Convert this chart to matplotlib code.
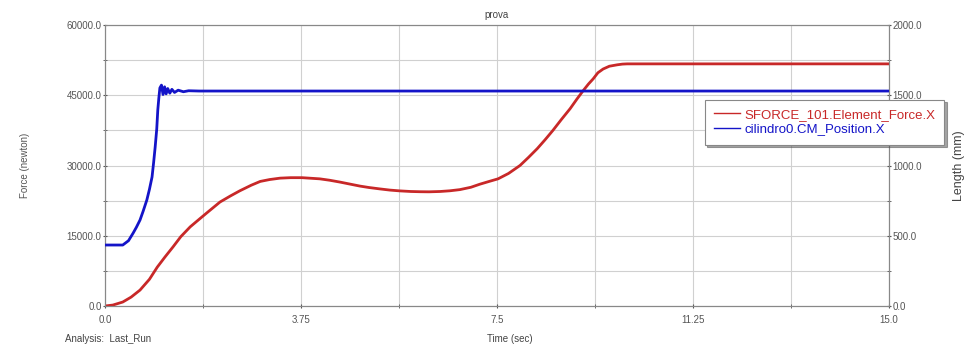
import matplotlib
matplotlib.use('Agg')
import matplotlib.pyplot as plt
from matplotlib.ticker import MultipleLocator

plt.rcParams['font.family'] = ['Liberation Sans', 'DejaVu Sans']

# Force (left axis)
force_t = [0.0, 0.15, 0.34, 0.5, 0.67, 0.85, 1.0, 1.15, 1.3, 1.45, 1.63, 1.8,
           1.95, 2.2, 2.4, 2.58, 2.8, 2.97, 3.15, 3.35, 3.55, 3.77, 4.11, 4.3,
           4.5, 4.7, 4.88, 5.05, 5.26, 5.45, 5.64, 5.85, 6.03, 6.2, 6.41, 6.6,
           6.79, 7.0, 7.17, 7.35, 7.52, 7.72, 7.94, 8.1, 8.27, 8.42, 8.57,
           8.73, 8.9, 9.03, 9.15, 9.25, 9.34, 9.43, 9.53, 9.65, 9.8, 9.9,
           9.99, 10.3, 15.0]
force_val = [0, 200, 850, 1900, 3400, 5700, 8300, 10500, 12600, 14800, 16900,
             18500, 19900, 22200, 23500, 24600, 25800, 26600, 27000, 27300,
             27400, 27400, 27150, 26850, 26450, 26000, 25600, 25300, 25000,
             24750, 24580, 24450, 24400, 24380, 24450, 24600, 24850, 25350,
             26000, 26600, 27150, 28300, 30000, 31700, 33600, 35500, 37500,
             39800, 42150, 44200, 46000, 47400, 48500, 49800, 50600, 51200,
             51500, 51650, 51700, 51700, 51700]

# Position (right axis)
pos_t = [0.0, 0.34, 0.45, 0.54, 0.6, 0.67, 0.73, 0.8, 0.85, 0.9, 0.93, 0.96,
         0.99, 1.01, 1.03, 1.05, 1.08, 1.11, 1.14, 1.17, 1.2, 1.24, 1.28,
         1.33, 1.4, 1.5, 1.6, 1.8, 15.0]
pos_val = [434, 434, 465, 520, 560, 612, 675, 754, 830, 918, 1020, 1132, 1260,
           1395, 1480, 1552, 1572, 1505, 1560, 1510, 1548, 1515, 1542, 1520,
           1536, 1525, 1532, 1530, 1530]

fig = plt.figure(figsize=(9.67, 3.5), dpi=100)
ax = fig.add_axes([105/967, 44/350, 784/967, 281/350])
ax2 = ax.twinx()

l1, = ax.plot(force_t, force_val, color='#c82828', linewidth=2,
              label='SFORCE_101.Element_Force.X', zorder=3)
l2, = ax2.plot(pos_t, pos_val, color='#1414c8', linewidth=2,
               label='cilindro0.CM_Position.X', zorder=3)

ax.set_xlim(0, 15)
ax.set_ylim(0, 60000)
ax2.set_ylim(0, 2000)
ax.set_xticks([0, 3.75, 7.5, 11.25, 15])
ax.set_xticklabels(['0.0', '3.75', '7.5', '11.25', '15.0'])
ax.xaxis.set_minor_locator(MultipleLocator(1.875))
ax.yaxis.set_major_locator(MultipleLocator(15000))
ax.yaxis.set_minor_locator(MultipleLocator(7500))
ax2.yaxis.set_major_locator(MultipleLocator(500))
ax2.yaxis.set_minor_locator(MultipleLocator(250))
ax.yaxis.set_major_formatter(lambda v, p: f'{v:.1f}')
ax2.yaxis.set_major_formatter(lambda v, p: f'{v:.1f}')

ax.grid(True, which='both', color='#d0d0d0', linewidth=0.8)
for a in (ax, ax2):
    a.tick_params(which='both', labelsize=7, colors='#555555', length=3,
                  direction='inout', pad=1)
    for s in a.spines.values():
        s.set_color('#888888')
ax.tick_params(axis='x', pad=5)

ax.set_title('prova', fontsize=7, color='#444444', pad=5)
ax.set_ylabel('Force (newton)', fontsize=7, color='#555555', labelpad=26)
ax2.set_ylabel('Length (mm)', fontsize=9, color='#444444', labelpad=22)
fig.text(510/967, 8/350, 'Time (sec)', fontsize=7, color='#444444', ha='center')
fig.text(65/967, 8/350, 'Analysis:  Last_Run', fontsize=7, color='#444444')

leg = fig.legend(handles=[l1, l2], loc='upper left',
                 bbox_to_anchor=(698/967, 1 - 93/350), fontsize=9.5,
                 labelcolor='linecolor', frameon=True, fancybox=False,
                 shadow=True, handlelength=2, borderpad=0.7,
                 labelspacing=0.15, handletextpad=0.3)
leg.get_frame().set_edgecolor('#888888')
leg.get_frame().set_linewidth(0.8)
for h in leg.legend_handles:
    h.set_linewidth(1)

fig.savefig('out.png', dpi=100)
